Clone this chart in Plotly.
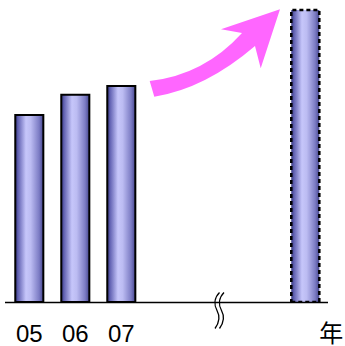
import plotly.graph_objects as go

# Yearly values (relative units) and the projected target
years = ["05", "06", "07"]
year_pos = [0, 1, 2]
values = [64, 71, 74]
target_pos = 6
target_value = 100
unit_label = "年"
unit_pos = 6.565

W, H = 345, 346
BOTTOM = 44
BAR_W = 0.61

cyl_scale = [
    [0.0, "#34347f"],
    [0.1, "#6262b2"],
    [0.38, "#c6c6fa"],
    [0.55, "#bcbcf2"],
    [0.85, "#7c7cc4"],
    [1.0, "#45458f"],
]


def bar_trace(x, v, dash="solid", width=2):
    x0, x1 = x - BAR_W / 2, x + BAR_W / 2
    return go.Scatter(
        x=[x0, x1, x1, x0, x0],
        y=[0, 0, v, v, 0],
        mode="lines",
        fill="toself",
        fillgradient=dict(type="horizontal", colorscale=cyl_scale),
        line=dict(color="black", width=width, dash=dash),
        hoverinfo="skip",
        showlegend=False,
    )


fig = go.Figure()
for xp, v in zip(year_pos, values):
    fig.add_trace(bar_trace(xp, v))
fig.add_trace(bar_trace(target_pos, target_value, dash="4px,3px", width=2.5))


def px(x, y):
    """Canvas pixel -> paper coordinates of the plot area."""
    plot_h = H - BOTTOM
    return x / W, (plot_h - y) / plot_h


def path(cmds):
    out = []
    for c in cmds:
        if isinstance(c, str):
            out.append(c)
        else:
            X, Y = px(*c)
            out.append(f"{X:.5f},{Y:.5f}")
    return " ".join(out)


shapes = []
# baseline
bx0, by = px(5, 302.5)
bx1, _ = px(328, 302.5)
shapes.append(dict(type="line", xref="paper", yref="paper", x0=bx0, x1=bx1,
                   y0=by, y1=by, line=dict(color="black", width=1.5)))

# rising arrow
arrow = path([
    "M", (149.7, 81), "Q", (204, 75), (242, 33),
    "L", (221, 29.3), "L", (280, 9.3), "L", (260.7, 68.3), "L", (255, 46),
    "Q", (205.3, 88.6), (154.3, 96.7), "Z",
])
shapes.append(dict(type="path", xref="paper", yref="paper", path=arrow,
                   fillcolor="#ff66ff", line=dict(width=0)))

# axis break mark
for dx in (0, 4.5):
    brk = path([
        "M", (219.5 + dx, 292.5),
        "C", (214 + dx, 298), (214 + dx, 305), (217 + dx, 310.5),
        "C", (220 + dx, 316), (219 + dx, 323), (215 + dx, 328.5),
    ])
    shapes.append(dict(type="path", xref="paper", yref="paper", path=brk,
                       line=dict(color="black", width=1.3)))

x_lo = -29.3 / 46
x_hi = (W - 29.3) / 46
y_hi = (H - BOTTOM) / 2.92

fig.update_layout(
    width=W, height=H,
    margin=dict(l=0, r=0, t=0, b=BOTTOM),
    paper_bgcolor="white", plot_bgcolor="white",
    shapes=shapes,
    xaxis=dict(range=[x_lo, x_hi], showgrid=False, zeroline=False,
               showline=False, ticks="", fixedrange=True,
               automargin=False,
               tickmode="array",
               tickvals=year_pos + [unit_pos],
               ticktext=years + [unit_label],
               ticklabelstandoff=15,
               tickfont=dict(family="Liberation Sans, Noto Sans CJK JP",
                             size=24, color="black")),
    yaxis=dict(range=[0, y_hi], visible=False, fixedrange=True,
               automargin=False),
)

fig.write_html("out.html", config={"displayModeBar": False})
